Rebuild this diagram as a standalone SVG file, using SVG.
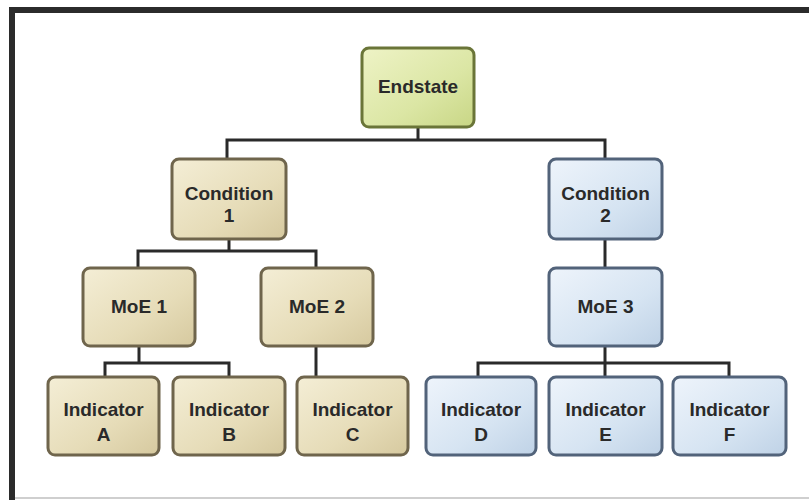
<svg xmlns="http://www.w3.org/2000/svg" width="809" height="500" viewBox="0 0 809 500">
<defs>
<linearGradient id="gTan" x1="0" y1="0" x2="1" y2="1">
<stop offset="0" stop-color="#f4eed6"/>
<stop offset="0.6" stop-color="#e6dcb8"/>
<stop offset="1" stop-color="#d6c99f"/>
</linearGradient>
<linearGradient id="gBlue" x1="0" y1="0" x2="1" y2="1">
<stop offset="0" stop-color="#eef4fb"/>
<stop offset="0.6" stop-color="#d6e4f2"/>
<stop offset="1" stop-color="#bfd2e6"/>
</linearGradient>
<linearGradient id="gGreen" x1="0" y1="0" x2="1" y2="1">
<stop offset="0" stop-color="#eef3c6"/>
<stop offset="0.6" stop-color="#dbe6a4"/>
<stop offset="1" stop-color="#c8d685"/>
</linearGradient>
</defs>
<style>
.tan rect{fill:url(#gTan);stroke:#6f654c;stroke-width:3}
.blue rect{fill:url(#gBlue);stroke:#52637a;stroke-width:3}
.green rect{fill:url(#gGreen);stroke:#6a7538;stroke-width:3}
text{font-family:"Liberation Sans",Arial,sans-serif;font-weight:bold;font-size:19px;fill:#2a2a2a;text-anchor:middle}
.conn{fill:none;stroke:#2a2a2a;stroke-width:3}
</style>
<rect x="0" y="0" width="809" height="500" fill="#ffffff"/>
<rect x="9" y="7" width="800" height="6" fill="#2b2b2b"/>
<rect x="9" y="7" width="6" height="493" fill="#2b2b2b"/>
<rect x="15" y="497" width="794" height="2" fill="#cfcfcf"/>
<g id="connectors">
<path class="conn" d="M418,127 V140 M227,159 V140 H605 V159"/>
<path class="conn" d="M229,239 V251 M138,268 V251 H316 V268"/>
<path class="conn" d="M605,239 V268"/>
<path class="conn" d="M139,346 V363 M105,377 V363 H229 V377"/>
<path class="conn" d="M316,346 V377"/>
<path class="conn" d="M605,346 V377 M478,377 V363 H729 V377"/>
</g>
<g id="endstate" class="green"><rect x="362" y="48" width="112" height="79" rx="7"/><text x="418" y="93">Endstate</text></g>
<g id="condition1" class="tan"><rect x="172" y="159" width="114" height="80" rx="7"/><text x="229" y="200">Condition</text><text x="229" y="222">1</text></g>
<g id="condition2" class="blue"><rect x="549" y="159" width="113" height="80" rx="7"/><text x="605.5" y="200">Condition</text><text x="605.5" y="222">2</text></g>
<g id="moe1" class="tan"><rect x="83" y="268" width="112" height="78" rx="7"/><text x="139" y="313">MoE 1</text></g>
<g id="moe2" class="tan"><rect x="261" y="268" width="112" height="78" rx="7"/><text x="317" y="313">MoE 2</text></g>
<g id="moe3" class="blue"><rect x="549" y="268" width="113" height="78" rx="7"/><text x="605.5" y="313">MoE 3</text></g>
<g id="indA" class="tan"><rect x="48" y="377" width="111" height="78" rx="7"/><text x="103.5" y="416">Indicator</text><text x="103.5" y="441">A</text></g>
<g id="indB" class="tan"><rect x="173" y="377" width="112" height="78" rx="7"/><text x="229" y="416">Indicator</text><text x="229" y="441">B</text></g>
<g id="indC" class="tan"><rect x="297" y="377" width="111" height="78" rx="7"/><text x="352.5" y="416">Indicator</text><text x="352.5" y="441">C</text></g>
<g id="indD" class="blue"><rect x="426" y="377" width="110" height="78" rx="7"/><text x="481" y="416">Indicator</text><text x="481" y="441">D</text></g>
<g id="indE" class="blue"><rect x="549" y="377" width="113" height="78" rx="7"/><text x="605.5" y="416">Indicator</text><text x="605.5" y="441">E</text></g>
<g id="indF" class="blue"><rect x="673" y="377" width="113" height="78" rx="7"/><text x="729.5" y="416">Indicator</text><text x="729.5" y="441">F</text></g>
</svg>
